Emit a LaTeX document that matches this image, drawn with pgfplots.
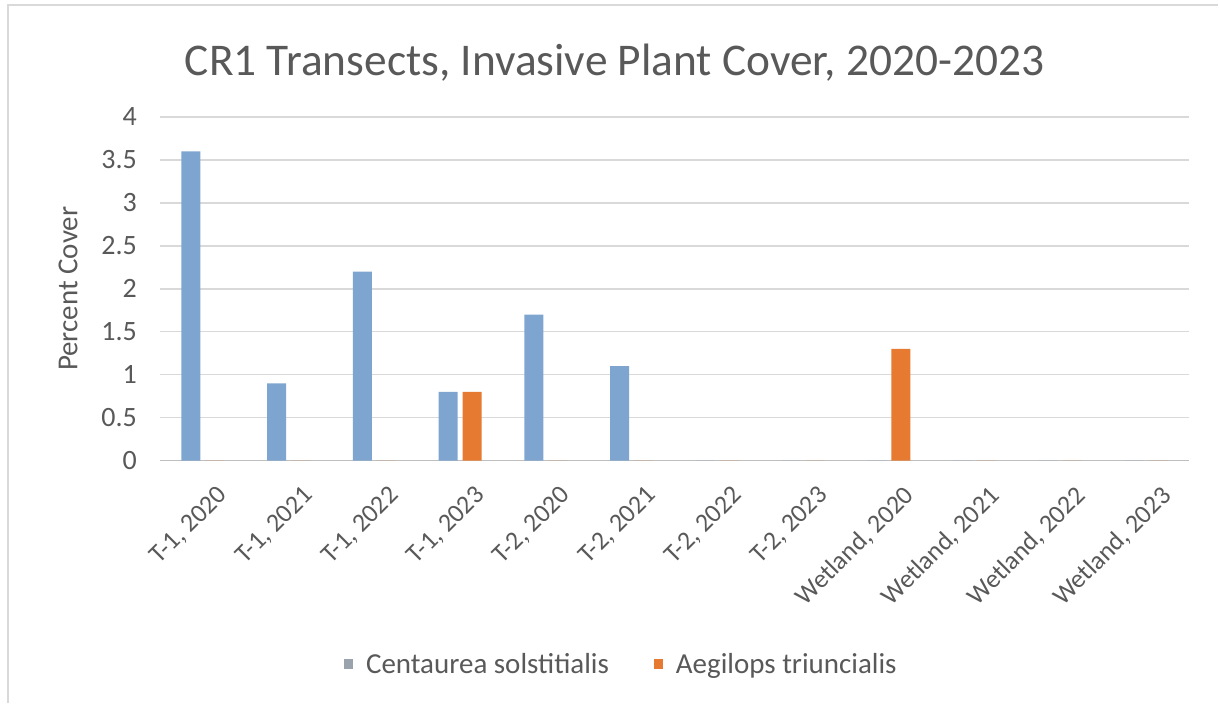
\documentclass[border=0pt]{standalone}
\usepackage{pgfplots}
\pgfplotsset{compat=1.18}
\usepackage{pgfplotstable}
\usepackage{fontspec}
\setmainfont{Carlito}

\definecolor{txtgray}{HTML}{595959}
\definecolor{gridgray}{HTML}{D9D9D9}
\definecolor{basegray}{HTML}{BFBFBF}
\definecolor{centblue}{HTML}{7EA5CF}
\definecolor{aegorange}{HTML}{E67A30}
\definecolor{legblue}{HTML}{9AA3AD}

% percent cover per transect-year
\pgfplotstableread{
idx cent aeg
0  3.6 0
1  0.9 0
2  2.2 0
3  0.8 0.8
4  1.7 0
5  1.1 0
6  0   0
7  0   0
8  0   1.3
9  0   0
10 0   0
11 0   0
}\covertable

\begin{document}
\begin{tikzpicture}[x=1pt,y=1pt]
  % page extent and frame
  \fill[white] (0,0) rectangle (609.5,352);
  \draw[gridgray, line width=1pt] (4,0) -- (4,349.5) -- (609.5,349.5);

  \node[anchor=base, text=txtgray, font=\fontsize{22.7}{26}\selectfont]
    at (307.5,314) {CR1 Transects, Invasive Plant Cover, 2020-2023};

  \begin{axis}[
    at={(80pt,121.5pt)}, anchor=south west,
    scale only axis, width=515pt, height=172pt,
    ybar=2.5pt, bar width=9.5pt,
    xmin=-0.5, xmax=11.5, ymin=0, ymax=4,
    ytick={0,0.5,...,4},
    xtick={0,...,11},
    xticklabels={{T-1, 2020},{T-1, 2021},{T-1, 2022},{T-1, 2023},{T-2, 2020},{T-2, 2021},{T-2, 2022},{T-2, 2023},{Wetland, 2020},{Wetland, 2021},{Wetland, 2022},{Wetland, 2023}},
    x tick label style={rotate=45, anchor=north east, inner sep=1pt, font=\fontsize{13}{15}\selectfont, text=txtgray, xshift=-2.5pt, yshift=-12pt},
    y tick label style={font=\fontsize{14}{16}\selectfont, text=txtgray, xshift=-8pt},
    /pgf/number format/assume math mode=true,
    yticklabel style={/pgf/number format/fixed},
    ymajorgrids, grid style={gridgray, line width=0.75pt},
    major tick length=0pt,
    axis y line*=left, y axis line style={draw=none},
    axis x line*=bottom, x axis line style={basegray, line width=0.75pt},
    ylabel={Percent Cover},
    ylabel style={at={(axis description cs:-0.0893,0.5)}, anchor=center, font=\fontsize{14.5}{17}\selectfont, text=txtgray},
    xtick style={draw=none},
    legend style={at={(axis description cs:0.1786,-0.593)}, anchor=west,
      inner sep=0pt, draw=none, fill=none,
      legend columns=2, font=\fontsize{14.5}{17}\selectfont, text=txtgray,
      nodes={inner sep=0pt},
      /tikz/every odd column/.style={column sep=6.5pt},
      /tikz/every even column/.style={column sep=22.5pt}},
    legend image code/.code={\fill[#1, draw=none] (0pt,-2.5pt) rectangle (4.5pt,2.5pt);},
  ]
    \addplot[fill=centblue, draw=none, legend image post style={fill=legblue}]
      table[x=idx, y=cent] {\covertable};
    \addplot[fill=aegorange, draw=none]
      table[x=idx, y=aeg] {\covertable};
    \legend{Centaurea solstitialis, Aegilops triuncialis}
  \end{axis}
\end{tikzpicture}
\end{document}
